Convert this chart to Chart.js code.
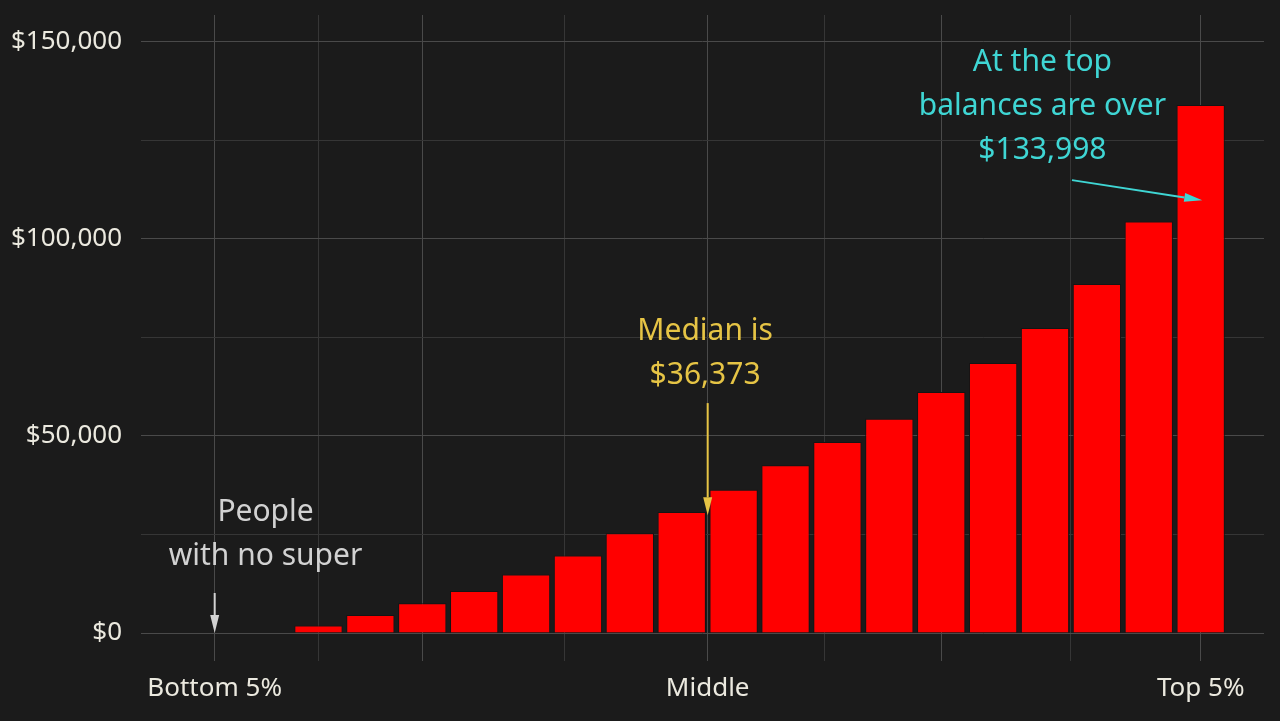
<!DOCTYPE html>
<html>
<head>
<meta charset="utf-8">
<script src="https://cdn.jsdelivr.net/npm/chart.js@4.4.1/dist/chart.umd.min.js"></script>
<style>
  html, body { margin: 0; padding: 0; background: #1b1b1b; }
  #wrap { width: 1280px; height: 721px; }
</style>
</head>
<body>
<div id="wrap"><canvas id="superChart"></canvas></div>
<script>
// Grupos de 5% de la población, del más pobre (0) al más rico (19)
const groups = [0, 1, 2, 3, 4, 5, 6, 7, 8, 9, 10, 11, 12, 13, 14, 15, 16, 17, 18, 19];
// Saldo de super de cada grupo
const balances = [0, 0, 1880, 4570, 7530, 10650, 14820, 19700, 25300, 30700,
  36373, 42550, 48460, 54400, 61140, 68500, 77380, 88550, 104450, 133998];

// Eje Y
const yTicks = [0, 25000, 50000, 75000, 100000, 125000, 150000];
const yLabelled = [0, 50000, 100000, 150000];

// Eje X: líneas de la rejilla y etiquetas
const xGrid = [0, 2, 4, 6.75, 9.5, 11.75, 14, 16.5, 19];
const xMajor = [0, 4, 9.5, 14, 19];
const xLabelPos = [0, 9.5, 19];
const xLabelText = ['Bottom 5%', 'Middle', 'Top 5%'];

// Notas con flecha (x en grupos, y en dólares)
const notes = [
  { lines: ['People', 'with no super'], color: '#d2d2d2', x: 0.98, y: 30700,
    from: [0, 10150], to: [0, 0] },
  { lines: ['Median is', '$36,373'], color: '#e6c445', x: 9.45, y: 76600,
    from: [9.5, 58350], to: [9.5, 29900] },
  { lines: ['At the top', 'balances are over', '$133,998'], color: '#3fd6d4', x: 15.95, y: 144900,
    from: [16.52, 114940], to: [19.03, 109860] }
];

Chart.defaults.font.family = "'Noto Sans', sans-serif";

// Dibuja las notas y sus flechas usando las escalas del gráfico
const notesPlugin = {
  id: 'notes',
  afterDatasetsDraw(chart) {
    const ctx = chart.ctx;
    const xs = chart.scales.x;
    const ys = chart.scales.y;
    ctx.save();
    notes.forEach(n => {
      ctx.fillStyle = n.color;
      ctx.strokeStyle = n.color;
      ctx.font = "30px 'Noto Sans'";
      ctx.textAlign = 'center';
      ctx.textBaseline = 'middle';
      const tx = xs.getPixelForValue(n.x);
      const ty = ys.getPixelForValue(n.y);
      n.lines.forEach((line, i) => ctx.fillText(line, tx, ty + i * 44));

      const x1 = xs.getPixelForValue(n.from[0]);
      const y1 = ys.getPixelForValue(n.from[1]);
      const x2 = xs.getPixelForValue(n.to[0]);
      const y2 = ys.getPixelForValue(n.to[1]);
      const ang = Math.atan2(y2 - y1, x2 - x1);
      const len = 18, half = 4.5;
      const bx = x2 - len * Math.cos(ang);
      const by = y2 - len * Math.sin(ang);
      ctx.lineWidth = 2;
      ctx.beginPath();
      ctx.moveTo(x1, y1);
      ctx.lineTo(bx, by);
      ctx.stroke();
      ctx.beginPath();
      ctx.moveTo(x2, y2);
      ctx.lineTo(bx + half * Math.sin(ang), by - half * Math.cos(ang));
      ctx.lineTo(bx - half * Math.sin(ang), by + half * Math.cos(ang));
      ctx.closePath();
      ctx.fill();
    });
    ctx.restore();
  }
};

// Quitar el relleno automático que Chart.js añade alrededor de los ejes
function noPadding(scale) {
  scale.paddingTop = 0;
  scale.paddingBottom = 0;
  scale.paddingLeft = 0;
  scale.paddingRight = 0;
}

const ctx = document.getElementById('superChart').getContext('2d');
new Chart(ctx, {
  type: 'bar',
  data: {
    datasets: [{
      data: groups.map((g, i) => ({ x: g, y: balances[i] })),
      backgroundColor: '#ff0000',
      borderColor: '#141414',
      borderWidth: 1,
      categoryPercentage: 1,
      barPercentage: 0.93
    }]
  },
  options: {
    responsive: true,
    maintainAspectRatio: false,
    animation: false,
    layout: { padding: { top: 15, right: 16, left: 0, bottom: 0 } },
    plugins: { legend: { display: false }, tooltip: { enabled: false } },
    scales: {
      x: {
        type: 'linear',
        min: -1.42,
        max: 20.22,
        offset: false,
        afterBuildTicks: scale => { scale.ticks = xGrid.map(v => ({ value: v })); },
        afterFit: scale => { scale.height = 88; noPadding(scale); },
        border: { display: false },
        grid: {
          offset: false,
          drawTicks: true,
          tickLength: 28,
          lineWidth: 1,
          color: c => (c.tick && xMajor.includes(c.tick.value)) ? '#4a4a4a' : '#363636'
        },
        ticks: {
          autoSkip: false,
          maxRotation: 0,
          padding: 12,
          color: '#ebe9df',
          font: { size: 26 },
          callback: v => {
            const k = xLabelPos.indexOf(v);
            return k >= 0 ? xLabelText[k] : '';
          }
        }
      },
      y: {
        min: 0,
        max: 156850,
        afterBuildTicks: scale => { scale.ticks = yTicks.map(v => ({ value: v })); },
        afterFit: scale => { scale.width = 141; noPadding(scale); },
        border: { display: false },
        grid: {
          drawTicks: false,
          color: c => (c.tick && yLabelled.includes(c.tick.value)) ? '#4a4a4a' : '#363636'
        },
        ticks: {
          padding: 19,
          color: '#ebe9df',
          font: { size: 26 },
          callback: v => yLabelled.includes(v) ? '$' + v.toLocaleString('en-US') : ''
        }
      }
    }
  },
  plugins: [notesPlugin]
});
</script>
</body>
</html>
